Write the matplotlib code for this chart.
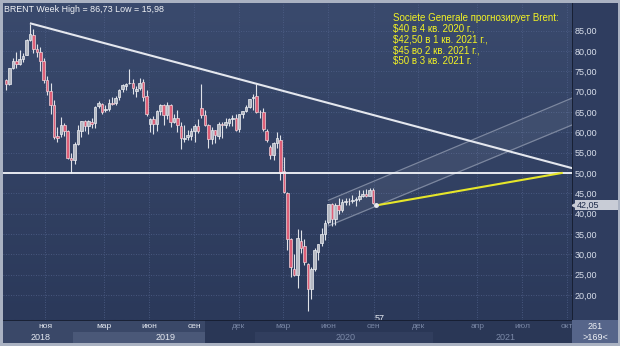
# -*- coding: utf-8 -*-
"""
Brent weekly candles with trend line, channel and SocGen forecast.
"""

import matplotlib
matplotlib.use('Agg')
import matplotlib.pyplot as plt
import matplotlib.dates as mdates
from matplotlib.colors import LinearSegmentedColormap
import numpy as np
import pandas as pd

# =============================================================================
# DATA
# =============================================================================

opens = [72.8, 71.8, 75.8, 77.6, 76.8, 78.1, 79.0, 82.8, 84.0, 80.5, 79.8, 77.6,
         72.9, 70.2, 66.8, 59.0, 59.5, 61.7, 60.3, 53.8, 53.2,
         57.1, 60.4, 62.7, 61.5, 62.6, 62.2, 66.5, 67.0, 65.4, 65.8, 67.2, 67.2,
         68.7, 70.6, 71.3, 72.0, 72.0, 70.2, 70.8, 72.4, 68.9, 62.0, 63.3, 62.0,
         65.2, 66.8, 64.2, 66.7, 62.6, 63.6, 61.5, 58.4, 58.8, 59.2, 60.2, 61.6,
         66.0, 64.3, 61.8, 58.4, 60.5, 59.2, 62.0, 61.7, 62.3, 63.3, 63.5, 60.9,
         64.4, 65.3, 66.1, 68.4,
         69.0, 65.0, 65.1, 60.4, 56.5, 54.3, 57.4, 58.0, 50.5, 45.0, 33.9, 26.5,
         24.9, 33.3, 32.0, 27.6, 21.4, 26.4, 30.5, 32.8, 35.1, 37.9, 42.4, 38.7,
         42.2, 41.0, 42.9, 43.2, 43.2, 43.3, 43.5, 44.4, 44.8, 44.4, 45.8]
highs = [73.2, 75.9, 78.2, 79.7, 80.1, 79.5, 82.9, 86.73, 85.5, 81.6, 80.9, 78.3,
         73.8, 72.0, 67.9, 61.3, 63.7, 62.2, 60.6, 55.0, 57.6,
         61.8, 62.8, 63.0, 63.0, 63.5, 66.4, 67.7, 67.2, 66.6, 68.1, 68.7, 69.0,
         70.6, 71.8, 72.0, 75.6, 73.0, 71.3, 73.4, 73.2, 70.3, 63.6, 63.9, 65.6,
         66.9, 67.0, 67.5, 67.0, 64.4, 65.5, 62.5, 61.8, 60.6, 61.0, 62.0, 63.3,
         71.9, 65.4, 62.0, 61.4, 60.6, 62.5, 62.6, 63.5, 63.6, 64.2, 64.5, 64.6,
         65.3, 66.8, 68.3, 69.5,
         71.75, 65.6, 66.0, 60.7, 56.8, 57.7, 60.0, 59.4, 53.9, 45.3, 34.0, 30.0,
         36.3, 36.0, 33.9, 28.0, 27.0, 31.5, 32.6, 36.4, 38.4, 42.5, 42.6, 42.6,
         43.9, 43.5, 43.8, 43.8, 44.6, 44.0, 45.9, 45.9, 46.0, 46.2, 46.2]
lows = [70.3, 71.5, 75.6, 75.9, 76.6, 77.2, 79.0, 82.5, 79.6, 78.5, 75.1, 72.2,
        69.1, 64.6, 58.4, 57.5, 58.8, 59.2, 53.4, 50.0, 52.2,
        56.9, 58.9, 60.2, 59.6, 61.1, 61.0, 66.0, 64.6, 64.9, 65.2, 66.8, 66.6,
        67.9, 69.8, 70.5, 71.8, 69.4, 68.7, 70.3, 67.6, 64.0, 60.0, 59.5, 60.3,
        64.2, 61.9, 63.3, 61.3, 62.3, 60.0, 55.9, 57.7, 58.0, 58.0, 57.6, 59.9,
        63.5, 61.6, 56.2, 57.2, 57.4, 58.4, 58.7, 61.0, 61.5, 61.5, 60.4, 60.0,
        63.4, 64.9, 66.0, 65.6,
        64.8, 63.5, 60.3, 57.5, 53.5, 53.1, 56.2, 48.4, 45.0, 31.0, 24.5, 24.6,
        21.65, 30.3, 27.5, 15.98, 19.0, 25.8, 28.7, 32.0, 33.6, 37.5, 37.0, 37.2,
        40.0, 40.5, 42.1, 42.2, 42.7, 42.0, 43.1, 44.1, 44.1, 44.3, 42.4]
closes = [71.8, 75.8, 77.6, 76.8, 78.1, 78.8, 82.7, 84.2, 80.4, 79.8, 77.6, 72.8,
          70.2, 66.8, 58.8, 58.7, 61.7, 60.3, 53.8, 53.2, 57.1,
          60.5, 62.7, 61.6, 62.8, 62.1, 66.3, 67.1, 65.1, 65.7, 67.2, 67.0, 68.4,
          70.3, 71.5, 71.9, 72.2, 70.9, 70.6, 72.2, 68.7, 64.5, 63.3, 62.0, 65.2,
          66.6, 64.2, 66.7, 62.5, 63.5, 61.9, 58.5, 58.6, 59.3, 60.4, 61.5, 60.2,
          64.3, 61.9, 58.4, 60.5, 59.4, 62.0, 61.7, 62.5, 63.3, 63.4, 60.5, 64.4,
          65.2, 66.1, 68.2, 68.6,
          65.0, 64.9, 60.7, 58.2, 54.5, 57.3, 58.5, 50.0, 45.3, 33.9, 27.0, 24.9,
          34.1, 31.5, 28.1, 21.4, 26.4, 31.0, 32.5, 35.1, 37.8, 42.3, 38.7, 42.2,
          41.0, 42.8, 43.2, 43.1, 43.3, 43.5, 44.4, 44.8, 44.4, 45.8, 42.7]
weeks = pd.date_range('2018-08-13', periods=len(opens), freq='W-MON')

# lines drawn on the chart
trend_dates = ['2018-10-03', '2021-10-11']
trend_prices = [86.73, 51.2]
chan_dates = ['2020-06-01', '2021-10-11']
chan_low = [37.0, 61.8]
chan_high = [43.3, 68.4]
fc_dates = ['2020-09-07', '2021-09-20']
fc_prices = [42.05, 50.0]
level = 50.0
last_price = 42.05

price_ticks = [20, 25, 30, 35, 40, 45, 50, 55, 60, 65, 70, 75, 80, 85]
month_dates = ['2018-11-01', '2019-03-01', '2019-06-01', '2019-09-01',
               '2019-12-01', '2020-03-01', '2020-06-01', '2020-09-01',
               '2020-12-01', '2021-04-01', '2021-07-01', '2021-10-01']
month_labels = ['ноя', 'мар', 'июн', 'сен', 'дек', 'мар', 'июн', 'сен',
                'дек', 'апр', 'июл', 'окт']
year_dates = ['2018-10-22', '2019-07-04', '2020-07-05', '2021-05-28']
year_labels = ['2018', '2019', '2020', '2021']

forecast = ('Societe Generale прогнозирует Brent:\n'
            '$40 в 4 кв. 2020 г.,\n'
            '$42,50 в 1 кв. 2021 г.,\n'
            '$45 во 2 кв. 2021 г.,\n'
            '$50 в 3 кв. 2021 г.')

# =============================================================================
# PLOTTING
# =============================================================================

plt.rcParams['font.family'] = ['Liberation Sans', 'DejaVu Sans']

W, H = 620, 346
fig = plt.figure(figsize=(6.2, 3.46), dpi=100, facecolor='#aab2c2')

def rect(x0, y0, x1, y1):
    # pixel box (top-left origin) -> figure fraction
    return [x0 / W, (H - y1) / H, (x1 - x0) / W, (y1 - y0) / H]

d = lambda s: mdates.date2num(pd.Timestamp(s))
xmin, xmax = d('2018-08-07'), d('2021-10-11')
ymin, ymax = 13.88, 91.77

ax = fig.add_axes(rect(3, 3, 572, 320))
ax.set_xlim(xmin, xmax)
ax.set_ylim(ymin, ymax)
grad = np.linspace(1, 0, 256).reshape(-1, 1)
cm = LinearSegmentedColormap.from_list('bg', ['#2b395a', '#3a4a6d'])
ax.imshow(grad, cmap=cm, aspect='auto', extent=(0, 1, 0, 1),
          transform=ax.transAxes, zorder=0)
for s in ax.spines.values():
    s.set_visible(False)
ax.set_xticks([d(m) for m in month_dates])
ax.set_yticks(price_ticks)
ax.tick_params(length=0, labelbottom=False, labelleft=False)
ax.grid(True, color='#50618a', ls=(0, (1, 2)), lw=0.6, zorder=1)

# channel
cx = [d(t) for t in chan_dates]
ax.fill_between(cx, chan_low, chan_high, color='white', alpha=0.06, lw=0, zorder=2)
ax.plot(cx, chan_low, color='#7c879f', lw=0.9, zorder=2)
ax.plot(cx, chan_high, color='#7c879f', lw=0.9, zorder=2)

# candles
x = mdates.date2num(weeks)
o = np.array(opens); c = np.array(closes)
up = c >= o
ax.vlines(x, lows, highs, color='#dfe2e8', lw=0.8, zorder=3)
ax.bar(x[up], (c - o)[up], bottom=o[up], width=5.2, color='#b4b8c2',
       edgecolor='#eef0f4', lw=0.5, zorder=4)
ax.bar(x[~up], (o - c)[~up], bottom=c[~up], width=5.2, color='#de5f78',
       edgecolor='#f2d4da', lw=0.5, zorder=4)

# trend, level, forecast
ax.plot([d(t) for t in trend_dates], trend_prices, color='#e4e7ee', lw=1.5, zorder=5)
ax.axhline(level, color='#f4f6fa', lw=1.3, zorder=5)
ax.plot([d(t) for t in fc_dates], fc_prices, color='#e6e62a', lw=1.5, zorder=6)
ax.plot(d(fc_dates[0]), fc_prices[0], 'o', ms=2.5, color='#e8eaf0', zorder=7)

ax.text(0.002, 0.98, 'BRENT Week High = 86,73 Low = 15,98', transform=ax.transAxes,
        color='#f0f2f6', fontsize=6.4, va='center', ha='left', zorder=8)
ax.text(0.6855, 0.97, forecast, transform=ax.transAxes, color='#f2f224',
        fontsize=7, va='top', ha='left', linespacing=1.12, zorder=8)
ax.text(d('2020-09-13'), 0.006, '57', transform=ax.get_xaxis_transform(),
        color='#e8ecf4', fontsize=6.5, ha='center', va='center', zorder=8)

# right price panel
ax2 = fig.add_axes(rect(572, 3, 618, 320))
ax2.set_facecolor('#2f3d5f')
ax2.set_ylim(ymin, ymax)
ax2.set_xlim(0, 1)
ax2.set_xticks([])
ax2.set_yticks(price_ticks)
ax2.set_yticklabels(['%d,00' % p for p in price_ticks])
ax2.tick_params(axis='y', length=0, pad=-2, labelsize=6.5, labelcolor='#d8deea')
for lab in ax2.get_yticklabels():
    lab.set_ha('left')
for s in ax2.spines.values():
    s.set_visible(False)
ax2.axvline(0, color='#141b2c', lw=1.2)
ax2.fill_between([0.06, 1.0], last_price - 1.25, last_price + 1.25,
                 color='#c8ccd6', lw=0, zorder=4)
ax2.plot(0.04, last_price, marker='<', ms=3.5, color='#c8ccd6', zorder=4)
ax2.text(0.1, last_price, '42,05', color='#1e2b4a', fontsize=6.5, va='center',
         ha='left', zorder=5)

# bottom time strip
ax3 = fig.add_axes(rect(3, 320, 572, 343))
ax3.set_xlim(xmin, xmax)
ax3.set_ylim(0, 1)
ax3.set_facecolor('#2a3756')
ax3.axvspan(xmin, d('2019-09-23'), color='#3a4868', lw=0)
ax3.axvspan(d('2018-12-28'), d('2019-09-23'), ymax=0.48, color='#4a5878', lw=0)
ax3.axvspan(d('2020-01-03'), d('2021-01-01'), ymax=0.48, color='#313e5e', lw=0)
ax3.axhline(1, color='#141b2c', lw=1.2)
for s in ax3.spines.values():
    s.set_visible(False)
ax3.set_yticks([])
ax3.xaxis.tick_top()
ax3.set_xticks([d(m) for m in month_dates])
ax3.set_xticklabels(month_labels)
ax3.tick_params(axis='x', length=0, pad=-4.5, labelsize=6)
for i, lab in enumerate(ax3.get_xticklabels()):
    lab.set_va('center')
    lab.set_color('#e4e8f0' if i < 4 else '#7a88a6')
for i, (yd, yl) in enumerate(zip(year_dates, year_labels)):
    ax3.text(d(yd), 0.26, yl, color='#e4e8f0' if i < 2 else '#7a88a6',
             fontsize=6.5, ha='center', va='center')

ax4 = fig.add_axes(rect(572, 320, 618, 343))
ax4.set_facecolor('#56658a')
ax4.set_xticks([]); ax4.set_yticks([])
for s in ax4.spines.values():
    s.set_visible(False)
ax4.text(0.5, 0.72, '261', color='#f0f2f6', fontsize=6.5, ha='center', va='center',
         transform=ax4.transAxes)
ax4.text(0.5, 0.25, '>169<', color='#f0f2f6', fontsize=6.5, ha='center', va='center',
         transform=ax4.transAxes)

fig.savefig('out.png', dpi=100, facecolor=fig.get_facecolor())
